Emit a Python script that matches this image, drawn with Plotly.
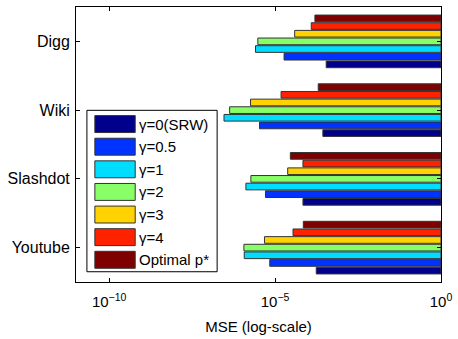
import plotly.graph_objects as go

categories = ["Digg", "Wiki", "Slashdot", "Youtube"]
series_names = ["γ=0(SRW)", "γ=0.5", "γ=1", "γ=2", "γ=3", "γ=4", "Optimal p*"]
# MSE values (log10) per series, order matches categories
log_mse = {
    "γ=0(SRW)":   [-3.46, -3.56, -4.16, -3.76],
    "γ=0.5":      [-4.73, -5.47, -5.29, -5.16],
    "γ=1":        [-5.59, -6.54, -5.88, -5.93],
    "γ=2":        [-5.52, -6.37, -5.73, -5.94],
    "γ=3":        [-4.41, -5.74, -4.62, -5.32],
    "γ=4":        [-3.91, -4.82, -4.16, -4.46],
    "Optimal p*": [-3.80, -3.70, -4.54, -4.15],
}
colors = ["#00008C", "#0033FF", "#00DDFF", "#88FF66", "#FFD200", "#FF2200", "#7F0000"]
tick_vals = [1e-10, 1e-5, 1]
tick_text = ["10<sup>−10</sup>", "10<sup>−5</sup>", "10<sup>0</sup>"]

W, H = 458, 339
L, R, T, B = 76, 444, 6, 282
FONT = "Liberation Sans, Arial, sans-serif"

fig = go.Figure()
for name, col in zip(series_names, colors):
    vals = [10 ** v for v in log_mse[name]]
    fig.add_trace(go.Bar(
        y=categories, x=[1 - v for v in vals], base=vals, orientation="h",
        name=name, marker=dict(color=col, line=dict(color="#333333", width=1)),
        showlegend=False,
    ))

def px_x(p):
    return (p - L) / (R - L)

def px_y(p):
    return (B - p) / (B - T)

shapes = [dict(type="rect", xref="paper", yref="paper",
               x0=px_x(87), x1=px_x(218.3), y0=px_y(271.7), y1=px_y(109.7),
               line=dict(color="black", width=1), fillcolor="white", layer="above")]
annotations = []
for i, (name, col) in enumerate(zip(series_names, colors)):
    cy = 123.5 + 22.7 * i
    shapes.append(dict(type="rect", xref="paper", yref="paper",
                       x0=px_x(95), x1=px_x(135.7), y0=px_y(cy + 8.5), y1=px_y(cy - 8.5),
                       line=dict(color="#333333", width=1), fillcolor=col, layer="above"))
    annotations.append(dict(xref="paper", yref="paper", x=px_x(138), y=px_y(cy),
                            text=name, showarrow=False, xanchor="left", yanchor="middle",
                            font=dict(size=15, color="black", family=FONT)))

fig.update_layout(
    width=W, height=H,
    margin=dict(l=L, r=W - R, t=T, b=H - B),
    paper_bgcolor="white", plot_bgcolor="white",
    barmode="group", bargap=0.22, bargroupgap=0.13,
    font=dict(family=FONT, size=15, color="black"),
    shapes=shapes, annotations=annotations,
    xaxis=dict(type="log", range=[-11, 0], tickvals=tick_vals, ticktext=tick_text,
               ticks="inside", ticklen=4, tickcolor="black", showline=True,
               linecolor="black", linewidth=1, mirror="ticks", showgrid=False,
               zeroline=False, tickfont=dict(size=15), ticklabelstandoff=6,
               title=dict(text="MSE (log-scale)", font=dict(size=15), standoff=12)),
    yaxis=dict(type="category", categoryorder="array",
               categoryarray=categories[::-1], range=[-0.5, 3.5],
               ticks="inside", ticklen=4, tickcolor="black", showline=True,
               linecolor="black", linewidth=1, mirror="ticks", showgrid=False,
               tickfont=dict(size=16), ticklabelstandoff=2),
)
fig.write_html("out.html")
